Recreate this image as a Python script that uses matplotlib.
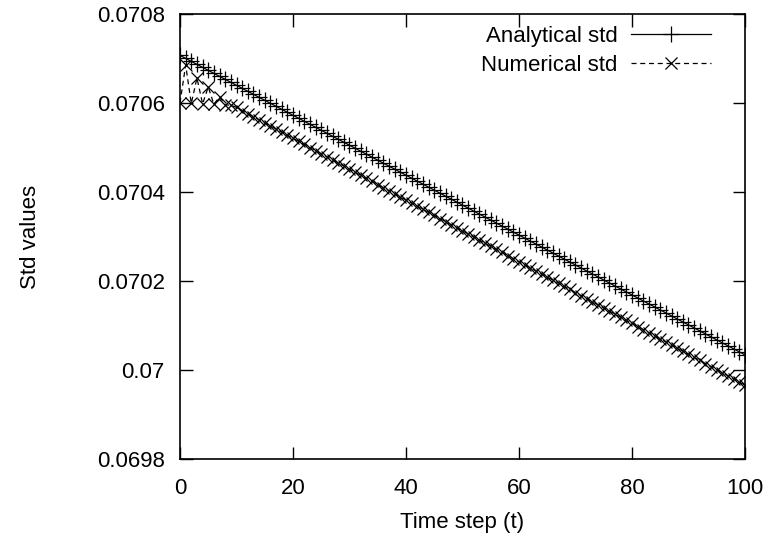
import matplotlib
matplotlib.use("Agg")
import matplotlib.pyplot as plt
import numpy as np

plt.rcParams['font.family'] = ['Liberation Sans', 'DejaVu Sans']

# time steps
t = list(range(0, 101))

# analytical std (units of 1e-7)
analytical_e7 = [
    707070, 707003, 706935, 706868, 706801, 706734, 706666, 706599, 706532, 706464,
    706397, 706330, 706262, 706195, 706128, 706061, 705993, 705926, 705859, 705791,
    705724, 705657, 705589, 705522, 705455, 705388, 705320, 705253, 705186, 705118,
    705051, 704984, 704916, 704849, 704782, 704715, 704647, 704580, 704513, 704445,
    704378, 704311, 704243, 704176, 704109, 704042, 703974, 703907, 703840, 703772,
    703705, 703638, 703570, 703503, 703436, 703369, 703301, 703234, 703167, 703099,
    703032, 702965, 702897, 702830, 702763, 702696, 702628, 702561, 702494, 702426,
    702359, 702292, 702224, 702157, 702090, 702023, 701955, 701888, 701821, 701753,
    701686, 701619, 701551, 701484, 701417, 701350, 701282, 701215, 701148, 701080,
    701013, 700946, 700878, 700811, 700744, 700677, 700609, 700542, 700475, 700407,
    700340,
]

# numerical std (units of 1e-7)
numerical_e7 = [
    706000, 706850, 705990, 706560, 705980, 706360, 705970, 706140, 705960, 705950,
    705900, 705831, 705761, 705692, 705623, 705553, 705484, 705415, 705345, 705276,
    705207, 705137, 705068, 704999, 704929, 704860, 704791, 704721, 704652, 704583,
    704513, 704444, 704375, 704305, 704236, 704167, 704097, 704028, 703959, 703889,
    703820, 703751, 703681, 703612, 703543, 703473, 703404, 703335, 703265, 703196,
    703127, 703057, 702988, 702919, 702849, 702780, 702711, 702641, 702572, 702503,
    702433, 702364, 702295, 702225, 702156, 702087, 702017, 701948, 701879, 701809,
    701740, 701671, 701601, 701532, 701463, 701393, 701324, 701255, 701185, 701116,
    701047, 700977, 700908, 700839, 700769, 700700, 700631, 700561, 700492, 700423,
    700353, 700284, 700215, 700145, 700076, 700007, 699937, 699868, 699799, 699729,
    699660,
]

xticks = [0, 20, 40, 60, 80, 100]
yticks = [0.0698, 0.0700, 0.0702, 0.0704, 0.0706, 0.0708]
ytick_labels = ["0.0698", "0.07", "0.0702", "0.0704", "0.0706", "0.0708"]

analytical = np.array(analytical_e7) * 1e-7
numerical = np.array(numerical_e7) * 1e-7

FS = 16

fig = plt.figure(figsize=(7.71, 5.47), dpi=100)
ax = fig.add_axes([180/771, 1-459/547, (745-180)/771, (459-14)/547])

ax.plot(t, analytical, color='black', lw=0.9, marker='+', ms=11, mew=0.9,
        label='Analytical std')
ax.plot(t, numerical, color='black', lw=0.9, ls=(0, (4, 3)), marker='x', ms=9,
        mew=0.9, label='Numerical std')

ax.set_xlim(0, 100)
ax.set_ylim(0.0698, 0.0708)
ax.set_xticks(xticks)
ax.set_yticks(yticks)
ax.set_yticklabels(ytick_labels)
ax.tick_params(direction='in', length=9, width=1, top=True, right=True,
               labelsize=FS)
ax.tick_params(axis='y', pad=11)
ax.tick_params(axis='x', pad=14)
for s in ax.spines.values():
    s.set_linewidth(1.2)

ax.set_xlabel('Time step (t)', fontsize=FS)
ax.set_ylabel('Std values', fontsize=FS)
ax.xaxis.set_label_coords(0.5, -0.12)
ax.yaxis.set_label_coords(-0.246, 0.5)

leg = ax.legend(loc='upper right', bbox_to_anchor=(722/771, 1-15/547),
                bbox_transform=fig.transFigure, frameon=False, markerfirst=False,
                fontsize=FS, handlelength=3.6, handletextpad=0.6, borderpad=0,
                labelspacing=0.36)

fig.savefig('out.png', dpi=100)
